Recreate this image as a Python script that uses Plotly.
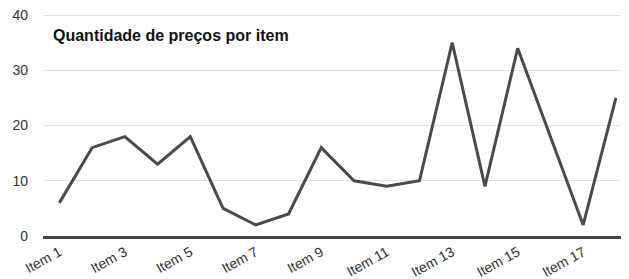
import plotly.graph_objects as go

items = [f"Item {i}" for i in range(1, 19)]
values = [6, 16, 18, 13, 18, 5, 2, 4, 16, 10, 9, 10, 35, 9, 34, 18, 2, 25]
tick_labels = [f"Item {i}" for i in range(1, 19, 2)]
y_ticks = [0, 10, 20, 30, 40]
title_text = "Quantidade de preços por item"

FONT = "Arial, 'Liberation Sans', sans-serif"

# page body adds an 8px margin, so the figure is sized to fit the window
W, H = 621, 271
L, T, B, R = 35, 6, 43, 0
PW = W - L - R

fig = go.Figure()
fig.add_trace(go.Scatter(
    x=list(range(len(items))), y=values, mode="lines",
    line=dict(color="#4a4a4a", width=3),
    hoverinfo="skip", showlegend=False,
))

fig.update_layout(
    width=W, height=H,
    margin=dict(l=L, r=R, t=T, b=B),
    paper_bgcolor="white", plot_bgcolor="white",
    font=dict(family=FONT, color="#333333"),
    xaxis=dict(
        range=[-0.5, 17.4],
        tickmode="array",
        tickvals=list(range(0, 18, 2)),
        ticktext=tick_labels,
        tickangle=-29,
        tickfont=dict(size=14, color="#333333"),
        showgrid=False, zeroline=False,
        showline=True, linecolor="#444444", linewidth=2.5,
        ticks="", automargin=False, ticklabeloverflow="allow",
        ticklabelstandoff=0,
    ),
    yaxis=dict(
        range=[0, 40.2],
        tickmode="array",
        tickvals=y_ticks,
        tickfont=dict(size=14, color="#333333"),
        showgrid=True, gridcolor="#e2e2e2", gridwidth=1,
        zeroline=False, showline=False, ticks="",
        ticklabelstandoff=14, automargin=False, ticklabeloverflow="allow",
    ),
    annotations=[dict(
        text=f"<b>{title_text}</b>", xref="paper", yref="paper",
        x=8 / PW, y=0.905, xanchor="left", yanchor="middle",
        showarrow=False, font=dict(family=FONT, size=16, color="#111111"),
    )],
)

fig.write_html("out.html")
